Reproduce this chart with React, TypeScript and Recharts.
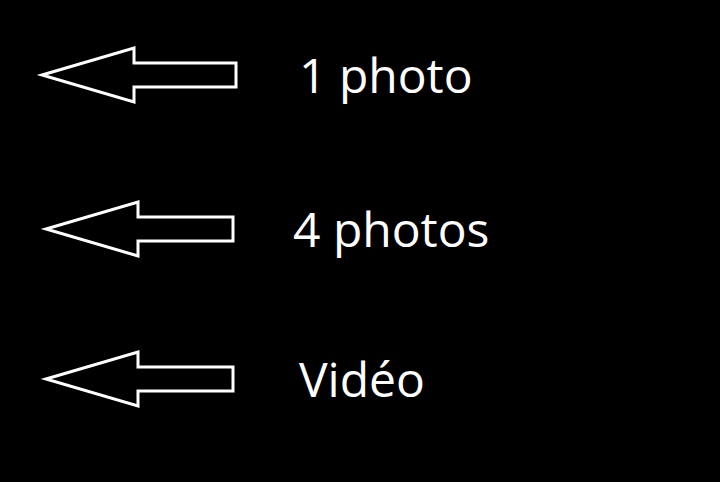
import { ScatterChart, Scatter, XAxis, YAxis } from "recharts";

if (typeof document !== "undefined") document.body.style.margin = "0";

const labels = ["1 photo", "4 photos", "Vidéo"];
const rowY = [75, 229, 379];
const tipX = [42, 46, 46];
const tailX = [236, 233, 233];
const labelX = [299, 293, 299];

const data = labels.map((label, i) => ({
  x: tipX[i],
  y: rowY[i],
  label,
  len: tailX[i] - tipX[i],
  textOffset: labelX[i] - tipX[i],
}));

function ArrowShape(props: any) {
  const { cx, cy, payload } = props;
  const len = payload.len;
  const headLen = 92;
  const headH = 27;
  const shaftH = 12;
  const pts = [
    [cx, cy],
    [cx + headLen, cy - headH],
    [cx + headLen, cy - shaftH],
    [cx + len, cy - shaftH],
    [cx + len, cy + shaftH],
    [cx + headLen, cy + shaftH],
    [cx + headLen, cy + headH],
  ]
    .map((p) => p.join(","))
    .join(" ");
  return (
    <g>
      <polygon points={pts} fill="none" stroke="#fff" strokeWidth={3} strokeLinejoin="miter" />
      <text
        x={cx + payload.textOffset}
        y={cy + 18}
        fill="#fff"
        fontSize={48}
        fontFamily="'Open Sans', sans-serif"
      >
        {payload.label}
      </text>
    </g>
  );
}

export default function App() {
  return (
    <div style={{ width: 720, height: 482, background: "#000" }}>
      <ScatterChart width={720} height={482} margin={{ top: 0, right: 0, bottom: 0, left: 0 }}>
        <XAxis type="number" dataKey="x" domain={[0, 720]} hide />
        <YAxis type="number" dataKey="y" domain={[0, 482]} reversed hide />
        <Scatter data={data} shape={<ArrowShape />} isAnimationActive={false} />
      </ScatterChart>
    </div>
  );
}
